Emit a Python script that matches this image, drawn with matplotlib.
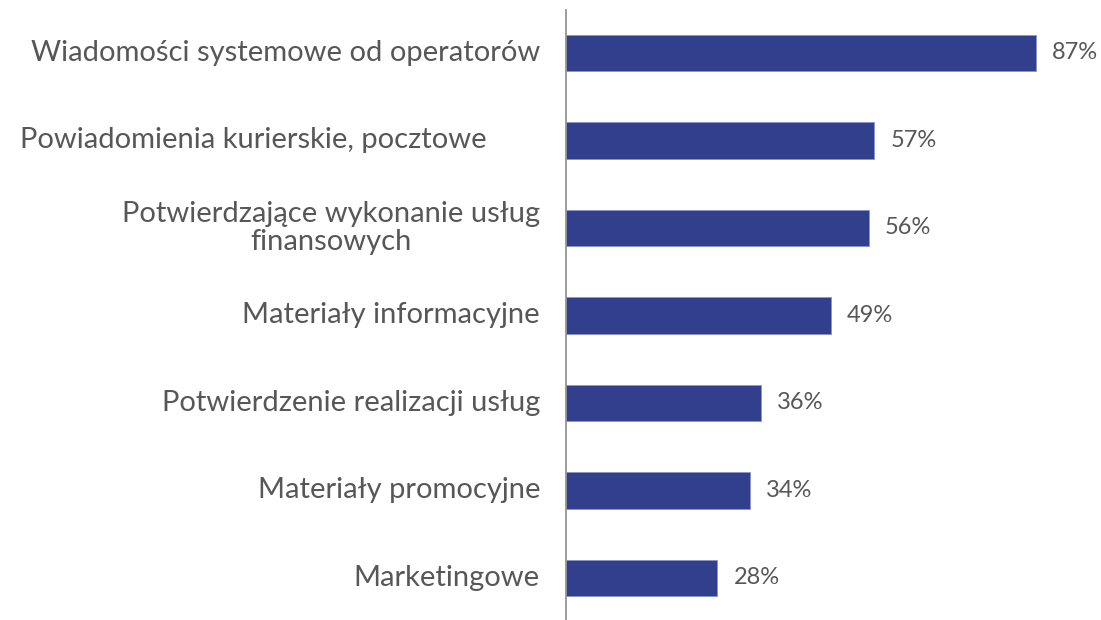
import matplotlib
matplotlib.use("Agg")
from matplotlib import pyplot as plt

categories = [
    "Wiadomości systemowe od operatorów",
    "Powiadomienia kurierskie, pocztowe",
    "Potwierdzające wykonanie usług\nfinansowych",
    "Materiały informacyjne",
    "Potwierdzenie realizacji usług",
    "Materiały promocyjne",
    "Marketingowe",
]
values = [87, 57, 56, 49, 36, 34, 28]

bar_color = "#323F8C"
text_color = "#575757"
font = ["Lato", "DejaVu Sans"]

fig = plt.figure(figsize=(11.01, 6.2), dpi=100)
ax = fig.add_axes([566 / 1101, 0.0, 535 / 1101, 1 - 10 / 620])

positions = list(range(len(categories)))
ax.barh(positions, values, height=0.42, color=bar_color,
        edgecolor="#8A94C8", linewidth=0.6)

ax.set_xlim(0, 99)
ax.set_ylim(6.48, -0.49)

for y, v in zip(positions, values):
    ax.text(v + 3, y, f"{v}%", va="center", ha="left", fontsize=17,
            color=text_color, family=font)

# category labels, right edge 26 px left of the axis line
for y, label in zip(positions, categories):
    xpad = 26 if label != "Powiadomienia kurierskie, pocztowe" else 79
    ax.annotate(label, xy=(0, y), xycoords="data",
                xytext=(-xpad * 0.72, 0), textcoords="offset points",
                ha="right", va="center", multialignment="center",
                linespacing=1.12, fontsize=21, color=text_color,
                family=font)

ax.set_yticks([])
ax.set_xticks([])
for side in ["top", "right", "bottom"]:
    ax.spines[side].set_visible(False)
ax.spines["left"].set_color("#8C8C8C")
ax.spines["left"].set_linewidth(1.2)

fig.savefig("out.png", dpi=100)
